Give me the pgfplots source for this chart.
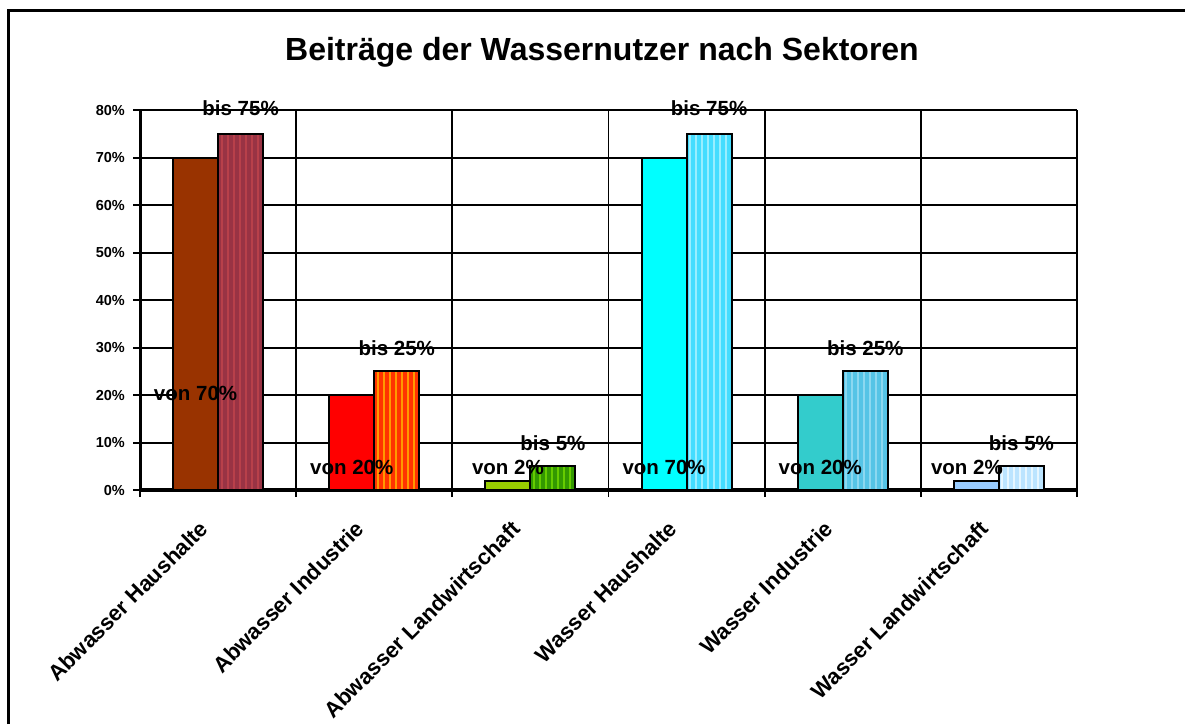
\documentclass[border=0pt]{standalone}
\usepackage{fontspec}
\setmainfont{Liberation Sans}
\usepackage{pgfplots}
\pgfplotsset{compat=1.18}
\usetikzlibrary{patterns.meta}

\definecolor{vA}{HTML}{993300}
\definecolor{bA}{HTML}{993344}
\definecolor{pA}{HTML}{B8404A}
\definecolor{vB}{HTML}{FF0000}
\definecolor{bB}{HTML}{FF3300}
\definecolor{pB}{HTML}{FF9900}
\definecolor{vC}{HTML}{99CC00}
\definecolor{bC}{HTML}{339900}
\definecolor{pC}{HTML}{66CC00}
\definecolor{vD}{HTML}{00FFFF}
\definecolor{bD}{HTML}{44DDFF}
\definecolor{pD}{HTML}{99EEFF}
\definecolor{vE}{HTML}{33CCCC}
\definecolor{bE}{HTML}{55C4E6}
\definecolor{pE}{HTML}{8CD8F0}
\definecolor{vF}{HTML}{99CCFF}
\definecolor{bF}{HTML}{BBE4FF}
\definecolor{pF}{HTML}{E6F6FF}

\begin{document}
\begin{tikzpicture}[x=1pt,y=1pt]
\useasboundingbox (0,0) rectangle (1185,-724);
\fill[white] (0,0) rectangle (1185,-724);
\draw[line width=3pt] (8.5,-724) -- (8.5,-10) -- (1185,-10);
\node[font=\bfseries\fontsize{32}{36}\selectfont] at (602,-52) {Beiträge der Wassernutzer nach Sektoren};
\begin{axis}[
  at={(140pt,-490pt)}, anchor=south west,
  scale only axis, width=937pt, height=380pt,
  xmin=-0.5, xmax=5.5, ymin=0, ymax=80,
  clip=false,
  axis x line*=bottom, axis y line*=left,
  x axis line style={-, line width=4pt},
  y axis line style={-, line width=3pt},
  xtick={0,1,2,3,4,5},
  xticklabels={Abwasser Haushalte, Abwasser Industrie, Abwasser Landwirtschaft, Wasser Haushalte, Wasser Industrie, Wasser Landwirtschaft},
  major x tick style={draw=none},
  minor xtick={-0.5,0.5,1.5,2.5,3.5,4.5,5.5},
  xminorgrids=true,
  minor grid style={black, line width=1.8pt},
  minor tick length=7pt,
  minor x tick style={black, line width=1.8pt},
  tick align=outside,
  ytick={0,10,20,30,40,50,60,70,80},
  yticklabel={\pgfmathprintnumber{\tick}\%},
  ymajorgrids=true,
  major grid style={black, line width=2pt},
  major tick length=7pt,
  major y tick style={black, line width=2pt},
  /pgf/number format/assume math mode=true,
  yticklabel style={font=\bfseries\fontsize{14.5}{16}\selectfont, inner sep=1pt, xshift=-7pt},
  xticklabel style={font=\bfseries\fontsize{22}{26}\selectfont, xshift=-20pt, yshift=-22pt, rotate=45, anchor=north east, inner sep=0pt},
]
% von bars
\addplot[ybar, bar width=45pt, bar shift=-22.5pt, draw=black, line width=2pt, fill=vA] coordinates {(0,70)};
\addplot[ybar, bar width=45pt, bar shift=-22.5pt, draw=black, line width=2pt, fill=vB] coordinates {(1,20)};
\addplot[ybar, bar width=45pt, bar shift=-22.5pt, draw=black, line width=2pt, fill=vC] coordinates {(2,2)};
\addplot[ybar, bar width=45pt, bar shift=-22.5pt, draw=black, line width=2pt, fill=vD] coordinates {(3,70)};
\addplot[ybar, bar width=45pt, bar shift=-22.5pt, draw=black, line width=2pt, fill=vE] coordinates {(4,20)};
\addplot[ybar, bar width=45pt, bar shift=-22.5pt, draw=black, line width=2pt, fill=vF] coordinates {(5,2)};
% bis bars
\addplot[ybar, bar width=45pt, bar shift=22.5pt, draw=black, line width=2pt, fill=bA, postaction={pattern={Lines[angle=90,distance=6pt,line width=2pt]}, pattern color=pA}] coordinates {(0,75)};
\addplot[ybar, bar width=45pt, bar shift=22.5pt, draw=black, line width=2pt, fill=bB, postaction={pattern={Lines[angle=90,distance=6pt,line width=2pt]}, pattern color=pB}] coordinates {(1,25)};
\addplot[ybar, bar width=45pt, bar shift=22.5pt, draw=black, line width=2pt, fill=bC, postaction={pattern={Lines[angle=90,distance=6pt,line width=2pt]}, pattern color=pC}] coordinates {(2,5)};
\addplot[ybar, bar width=45pt, bar shift=22.5pt, draw=black, line width=2pt, fill=bD, postaction={pattern={Lines[angle=90,distance=6pt,line width=2pt]}, pattern color=pD}] coordinates {(3,75)};
\addplot[ybar, bar width=45pt, bar shift=22.5pt, draw=black, line width=2pt, fill=bE, postaction={pattern={Lines[angle=90,distance=6pt,line width=2pt]}, pattern color=pE}] coordinates {(4,25)};
\addplot[ybar, bar width=45pt, bar shift=22.5pt, draw=black, line width=2pt, fill=bF, postaction={pattern={Lines[angle=90,distance=6pt,line width=2pt]}, pattern color=pF}] coordinates {(5,5)};
% labels
\begin{scope}[every node/.style={font=\bfseries\fontsize{20.5}{24}\selectfont, inner sep=0pt}]
\node[xshift=-22.5pt] at (axis cs:0,20.4) {von 70\%};
\node[xshift=22.5pt] at (axis cs:0,80.4) {bis 75\%};
\node[xshift=-22.5pt] at (axis cs:1,4.8) {von 20\%};
\node[xshift=22.5pt] at (axis cs:1,29.9) {bis 25\%};
\node[xshift=-22.5pt] at (axis cs:2,4.8) {von 2\%};
\node[xshift=22.5pt] at (axis cs:2,9.9) {bis 5\%};
\node[xshift=-22.5pt] at (axis cs:3,4.8) {von 70\%};
\node[xshift=22.5pt] at (axis cs:3,80.4) {bis 75\%};
\node[xshift=-22.5pt] at (axis cs:4,4.8) {von 20\%};
\node[xshift=22.5pt] at (axis cs:4,29.9) {bis 25\%};
\node[xshift=-32pt] at (axis cs:5,4.8) {von 2\%};
\node[xshift=22.5pt] at (axis cs:5,9.9) {bis 5\%};
\end{scope}
\end{axis}
\end{tikzpicture}
\end{document}
